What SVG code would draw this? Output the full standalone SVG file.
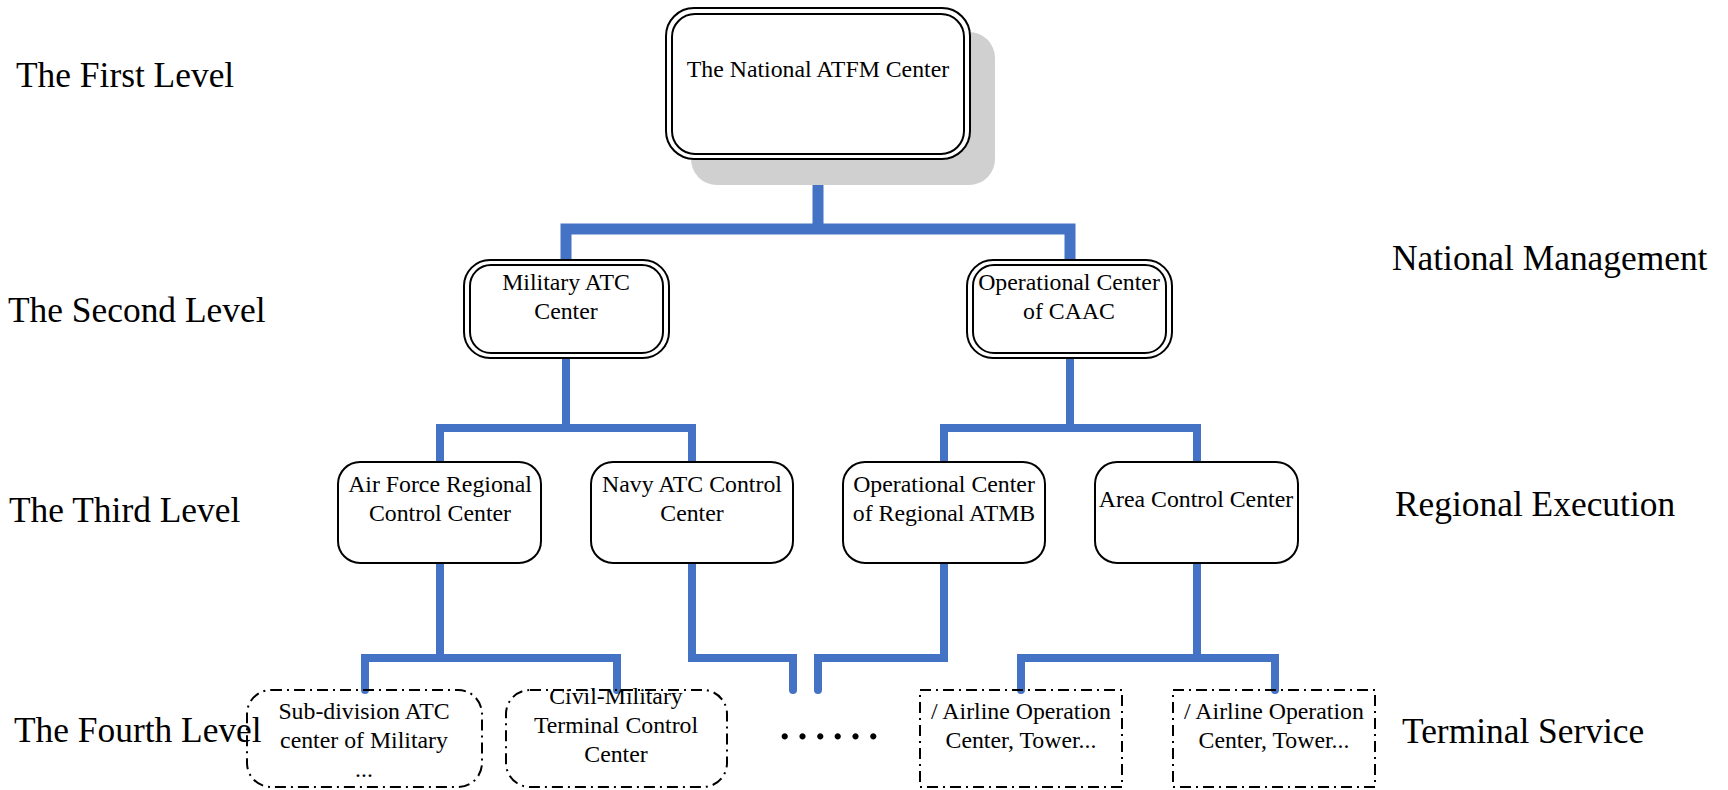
<svg xmlns="http://www.w3.org/2000/svg" width="1728" height="790" viewBox="0 0 1728 790">
<style>
.lvl{font-family:"Liberation Serif","Times New Roman",serif;font-size:35.4px;fill:#000}
.t{font-family:"Liberation Serif","Times New Roman",serif;font-size:23.8px;fill:#000;text-anchor:middle}
.dbl{fill:none;stroke:#000;stroke-width:2}
.box{fill:#fff;stroke:#000;stroke-width:2}
.dd{fill:none;stroke:#000;stroke-width:2;stroke-dasharray:11 5 2 5}
.c{fill:none;stroke:#4472C4;stroke-linecap:round;stroke-linejoin:miter}
</style>
<rect width="1728" height="790" fill="#fff"/>
<g id="labels">
<text class="lvl" x="16" y="87">The First Level</text>
<text class="lvl" x="8" y="322">The Second Level</text>
<text class="lvl" x="9" y="522">The Third Level</text>
<text class="lvl" x="14" y="742">The Fourth Level</text>
<text class="lvl" x="1392" y="270">National Management</text>
<text class="lvl" x="1395" y="516">Regional Execution</text>
<text class="lvl" x="1402" y="743">Terminal Service</text>
</g>
<g id="connectors">
<path class="c" stroke-width="11" d="M818,158 V229 M566,262 V229 H1070 V262"/>
<path class="c" stroke-width="8" d="M566,357 V428 M440,463 V428 H692 V463 M1070,357 V428 M944,463 V428 H1197 V463"/>
<path class="c" stroke-width="8" d="M440,563 V658 M365,690 V658 H617 V690 M692,563 V658 H793 V690 M944,563 V658 H818 V690 M1197,563 V658 M1021,690 V658 H1275 V690"/>
</g>
<g id="n-national">
<rect x="691" y="32" width="304" height="153" rx="26" fill="#d0d0d0"/>
<rect x="666" y="8" width="304" height="151" rx="28" class="box"/>
<rect x="672" y="14" width="292" height="140" rx="23" class="dbl"/>
<text class="t" x="818" y="77">The National ATFM Center</text>
</g>
<g id="n-military">
<rect x="464" y="260" width="205" height="98" rx="26" class="box"/>
<rect x="470" y="265" width="193" height="88" rx="21" class="dbl"/>
<text class="t" x="566" y="290">Military ATC</text>
<text class="t" x="566" y="319">Center</text>
</g>
<g id="n-caac">
<rect x="967" y="260" width="205" height="98" rx="26" class="box"/>
<rect x="973" y="265" width="193" height="88" rx="21" class="dbl"/>
<text class="t" x="1069" y="290">Operational Center</text>
<text class="t" x="1069" y="319">of CAAC</text>
</g>
<g id="n-airforce">
<rect x="338" y="462" width="203" height="101" rx="22" class="box"/>
<text class="t" x="440" y="492">Air Force Regional</text>
<text class="t" x="440" y="521">Control Center</text>
</g>
<g id="n-navy">
<rect x="591" y="462" width="202" height="101" rx="22" class="box"/>
<text class="t" x="692" y="492">Navy ATC Control</text>
<text class="t" x="692" y="521">Center</text>
</g>
<g id="n-atmb">
<rect x="843" y="462" width="202" height="101" rx="22" class="box"/>
<text class="t" x="944" y="492">Operational Center</text>
<text class="t" x="944" y="521">of Regional ATMB</text>
</g>
<g id="n-area">
<rect x="1095" y="462" width="203" height="101" rx="22" class="box"/>
<text class="t" x="1196" y="507">Area Control Center</text>
</g>
<g id="n-subdivision">
<rect x="247" y="690" width="235" height="97" rx="24" class="dd"/>
<text class="t" x="364" y="719">Sub-division ATC</text>
<text class="t" x="364" y="748">center of Military</text>
<text class="t" x="364" y="777">...</text>
</g>
<g id="n-civil">
<rect x="506" y="690" width="221" height="97" rx="24" class="dd"/>
<text class="t" x="616" y="704">Civil-Military</text>
<text class="t" x="616" y="733">Terminal Control</text>
<text class="t" x="616" y="762">Center</text>
</g>
<g id="n-dots">
<text class="t" x="829" y="739" style="font-size:53px">……</text>
</g>
<g id="n-airline1">
<rect x="920" y="690" width="202" height="97" class="dd"/>
<text class="t" x="1021" y="719">/ Airline Operation</text>
<text class="t" x="1021" y="748">Center, Tower...</text>
</g>
<g id="n-airline2">
<rect x="1173" y="690" width="202" height="97" class="dd"/>
<text class="t" x="1274" y="719">/ Airline Operation</text>
<text class="t" x="1274" y="748">Center, Tower...</text>
</g>
</svg>
